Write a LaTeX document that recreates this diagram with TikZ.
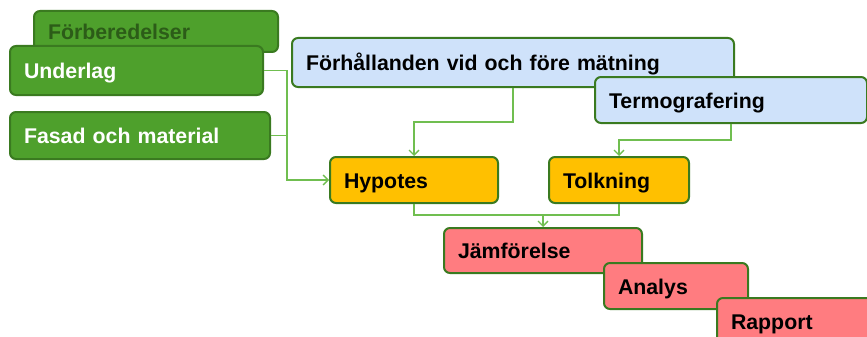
\documentclass[tikz,border=0pt]{standalone}
\usepackage{fontspec}
\setmainfont{Liberation Sans}
\usetikzlibrary{arrows.meta,positioning,calc}
\definecolor{grasgron}{RGB}{78,160,44}
\definecolor{morkgron}{RGB}{44,92,24}
\definecolor{kantgron}{RGB}{58,122,32}
\definecolor{linjegron}{RGB}{112,190,80}
\definecolor{ljusbla}{RGB}{207,226,250}
\definecolor{orange}{RGB}{255,192,0}
\definecolor{rosa}{RGB}{255,124,128}
\tikzset{main base/.style={draw=kantgron,line width=2pt,rounded corners=6pt,anchor=north west,
    align=left,inner xsep=14pt,inner ysep=0pt,text height=16.5pt,text depth=0pt,
    font=\fontsize{21.3}{24}\selectfont\bfseries}, }
\tikzset{main node/.style 2 args={main base,minimum width=#1pt,minimum height=#2pt,
    text width=#1pt-28pt}, }
\tikzset{gron/.style={fill=grasgron,text=white}, }
\tikzset{bla/.style={fill=ljusbla,text=black}, }
\tikzset{gul/.style={fill=orange,text=black}, }
\tikzset{rod/.style={fill=rosa,text=black}, }
\tikzset{linea/.style={-{Straight Barb[length=5pt,width=10pt]},line width=1.3pt,draw=linjegron}}
\tikzset{linea2/.style={line width=1.3pt,draw=linjegron}}
\begin{document}
\begin{tikzpicture}[x=1pt,y=-1pt]
  \useasboundingbox (0,0) rectangle (867,337);
  % vänstra kolumnen
  \node[main node={244}{41},gron,text=morkgron] (forb) at (33,10) {Förberedelser};
  \node[main node={253}{49},gron] (underlag) at (9,45) {Underlag};
  \node[main node={260}{47},gron] (fasad) at (9,111) {Fasad och material};
  % mätning
  \node[main node={442}{49},bla] (forhall) at (291,37) {Förhållanden vid och före mätning};
  \node[main node={272}{46},bla] (termo) at (594,76) {Termografering};
  \node[main node={168}{46},gul] (hypotes) at (329,156) {Hypotes};
  \node[main node={140}{46},gul] (tolkning) at (548,156) {Tolkning};
  % resultat
  \node[main node={198}{45},rod] (jamf) at (443,227) {Jämförelse};
  \node[main node={144}{46},rod] (analys) at (603,262) {Analys};
  \node[main node={170}{46},rod] (rapport) at (716,297) {Rapport};
  %
  \path[linea2] (fasad.east) -- ++(16,0);
  \path[linea] (underlag.east) -- ++(23,0) |- (hypotes.west);
  \path[linea] (forhall.south) -- ++(0,34) -| (hypotes.north);
  \path[linea] (termo.south) -- ++(0,16) -| (tolkning.north);
  \path[linea2] (hypotes.south) -- ++(0,11) coordinate (mote) -| (tolkning.south);
  \path[linea] (mote -| jamf.north) -- (jamf.north);
%
\end{tikzpicture}
\end{document}
